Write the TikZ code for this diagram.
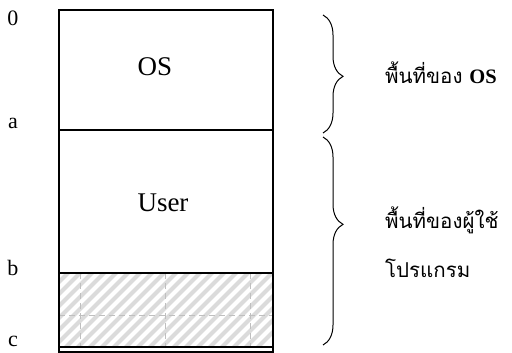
\documentclass[tikz,border=0pt]{standalone}
\usepackage{fontspec}
\setmainfont{Liberation Serif}
\newfontfamily\thaifont[Script=Thai]{Loma}
\usetikzlibrary{decorations.pathreplacing}
\begin{document}
\begin{tikzpicture}[x=1pt,y=-1pt,
  frame/.style={draw=black,line width=1.6pt},
  sep/.style={draw=black,line width=1.4pt},
  lbl/.style={font=\fontsize{22}{26}\selectfont,inner sep=0pt},
  boxtxt/.style={font=\fontsize{27}{32}\selectfont,inner sep=0pt},
  thai/.style={font=\thaifont\fontsize{20.5}{24}\selectfont,inner sep=0pt,anchor=west},
  brc/.style={draw=black,line width=1pt,decorate,decoration={brace,amplitude=20pt}},
  stripe/.style={draw=black!14,line width=4pt},
  gridl/.style={draw=black!25,line width=0.4pt,dash pattern=on 6pt off 4pt}]
\useasboundingbox (0,0) rectangle (512,353);
\fill[white] (0,0) rectangle (512,353);
% coordinates
\coordinate (tl) at (59,10);
\coordinate (br) at (273,352);
\coordinate (al) at (59,130);
\coordinate (ar) at (273,130);
\coordinate (bl) at (59,273);
\coordinate (bR) at (273,273);
\coordinate (cl) at (59,347);
\coordinate (cr) at (273,347);
% hatch
\begin{scope}
  \clip (bl) rectangle (cr);
  \foreach \i in {-120,-108,...,260}{
    \draw[stripe] (\i,353) -- ++(90,-90);
  }
  \foreach \gx in {80,165,250}{
    \draw[gridl] (\gx,273) -- (\gx,347);
  }
  \draw[gridl] (59,315) -- (273,315);
\end{scope}
% frame
\draw[frame] (tl) rectangle (br);
\draw[sep] (al) -- (ar);
\draw[sep] (bl) -- (bR);
\draw[line width=1.2pt] (cl) -- (cr);
% texts
\node[boxtxt] (os) at (155,67) {OS};
\node[boxtxt] (user) at (163,203) {User};
\node[lbl] (l0) at (13,18) {0};
\node[lbl] (la) at (13,123) {a};
\node[lbl] (lb) at (13,268) {b};
\node[lbl] (lc) at (13,341) {c};
% braces
\coordinate (b1t) at (323,15);
\coordinate (b1b) at (323,133);
\coordinate (b2t) at (323,137);
\coordinate (b2b) at (323,345);
\draw[brc,decoration={aspect=0.52}] (b1t) -- (b1b);
\draw[brc,decoration={aspect=0.42}] (b2t) -- (b2b);
\node[thai] (t1) at (385,73) {พื้นที่ของ {\rmfamily\bfseries OS}};
\node[thai] (t2) at (385,220) {พื้นที่ของผู้ใช้};
\node[thai] (t3) at (385,268) {โปรแกรม};
\end{tikzpicture}
\end{document}
